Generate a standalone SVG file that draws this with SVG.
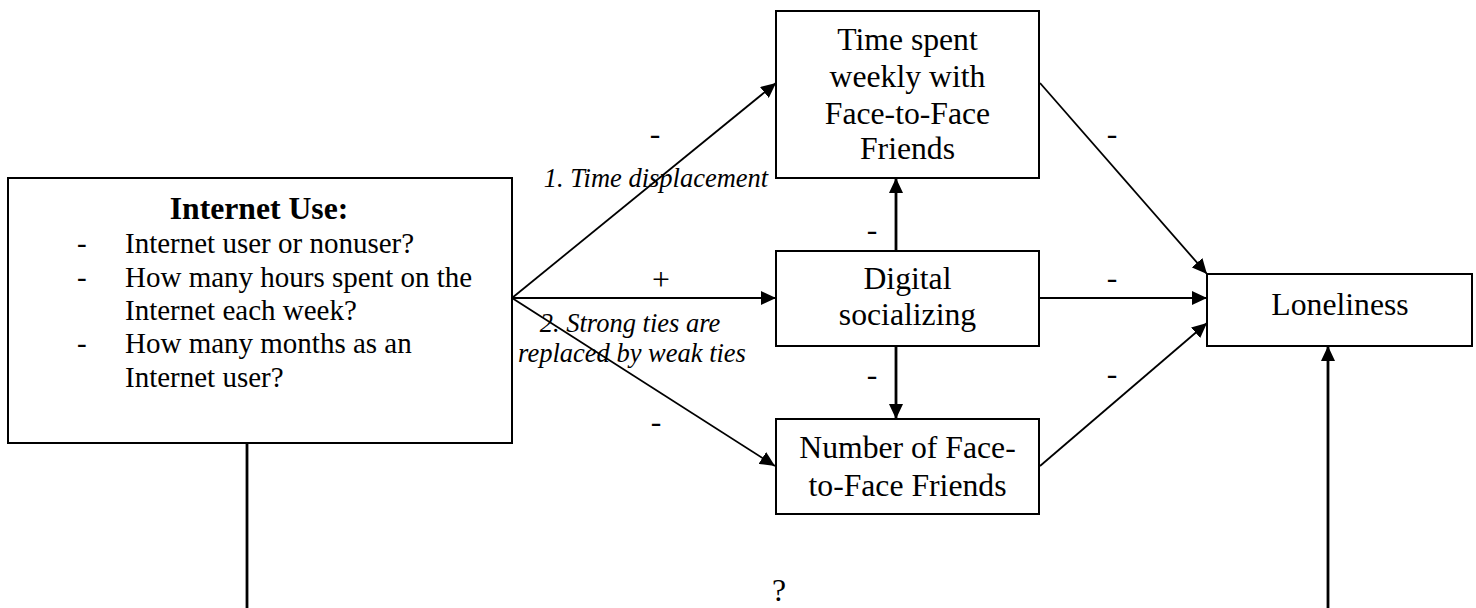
<svg xmlns="http://www.w3.org/2000/svg" width="1476" height="608" viewBox="0 0 1476 608">
<style>
.box{fill:#fff;stroke:#000;stroke-width:2}
.t{font-family:"Liberation Serif","Times New Roman",serif;font-size:31.7px;fill:#000;text-anchor:middle}
.b{font-family:"Liberation Serif","Times New Roman",serif;font-size:29px;fill:#000}
.it{font-family:"Liberation Serif","Times New Roman",serif;font-size:26.5px;font-style:italic;fill:#000;text-anchor:middle}
.ln{fill:none;stroke:#000;stroke-width:1.8}
.thk{fill:none;stroke:#000;stroke-width:2.8}
</style>
<defs>
<marker id="ah" viewBox="0 0 15 14" refX="15" refY="7" markerWidth="15" markerHeight="14" markerUnits="userSpaceOnUse" orient="auto">
<path d="M0,0 L15,7 L0,14 z" fill="#000"/>
</marker>
</defs>
<rect width="1476" height="608" fill="#fff"/>
<g id="connectors">
<path class="ln" d="M512,298 L776,83" marker-end="url(#ah)"/>
<path class="ln" d="M512,298 L776,298" marker-end="url(#ah)"/>
<path class="ln" d="M512,298 L775,466" marker-end="url(#ah)"/>
<path class="thk" d="M896,251 L896,178" marker-end="url(#ah)"/>
<path class="thk" d="M896,346 L896,419" marker-end="url(#ah)"/>
<path class="ln" d="M1040,83 L1207,274" marker-end="url(#ah)"/>
<path class="ln" d="M1040,298 L1207,298" marker-end="url(#ah)"/>
<path class="ln" d="M1040,466 L1207,323" marker-end="url(#ah)"/>
<path class="thk" d="M1328,608 L1328,346" marker-end="url(#ah)"/>
<path class="thk" d="M247,443 L247,608"/>
</g>
<g id="labels">
<text class="t" x="655" y="144">-</text>
<text class="t" x="661" y="290">+</text>
<text class="t" x="656" y="432">-</text>
<text class="t" x="872" y="240">-</text>
<text class="t" x="872" y="385">-</text>
<text class="t" x="1112" y="144">-</text>
<text class="t" x="1112" y="288">-</text>
<text class="t" x="1112" y="384">-</text>
<text class="it" x="656" y="187">1. Time displacement</text>
<text class="it" x="630" y="332">2. Strong ties are</text>
<text class="it" x="632" y="362">replaced by weak ties</text>
<text class="t" x="779" y="601">?</text>
</g>
<g id="internet-use">
<rect class="box" x="8" y="178" width="504" height="265"/>
<text class="t" x="259" y="219" font-weight="bold">Internet Use:</text>
<text class="b" x="77" y="253">-</text>
<text class="b" x="125" y="253">Internet user or nonuser?</text>
<text class="b" x="77" y="287">-</text>
<text class="b" x="125" y="287">How many hours spent on the</text>
<text class="b" x="125" y="320">Internet each week?</text>
<text class="b" x="77" y="353">-</text>
<text class="b" x="125" y="353">How many months as an</text>
<text class="b" x="125" y="387">Internet user?</text>
</g>
<g id="time-spent">
<rect class="box" x="776" y="11" width="263" height="167"/>
<text class="t" x="907.5" y="50">Time spent</text>
<text class="t" x="907.5" y="87">weekly with</text>
<text class="t" x="907.5" y="124">Face-to-Face</text>
<text class="t" x="907.5" y="159">Friends</text>
</g>
<g id="digital">
<rect class="box" x="776" y="251" width="263" height="95"/>
<text class="t" x="907.5" y="289">Digital</text>
<text class="t" x="907.5" y="325">socializing</text>
</g>
<g id="number">
<rect class="box" x="776" y="419" width="263" height="95"/>
<text class="t" x="907.5" y="458">Number of Face-</text>
<text class="t" x="907.5" y="496">to-Face Friends</text>
</g>
<g id="loneliness">
<rect class="box" x="1207" y="274" width="265" height="72"/>
<text class="t" x="1340" y="315">Loneliness</text>
</g>
</svg>
